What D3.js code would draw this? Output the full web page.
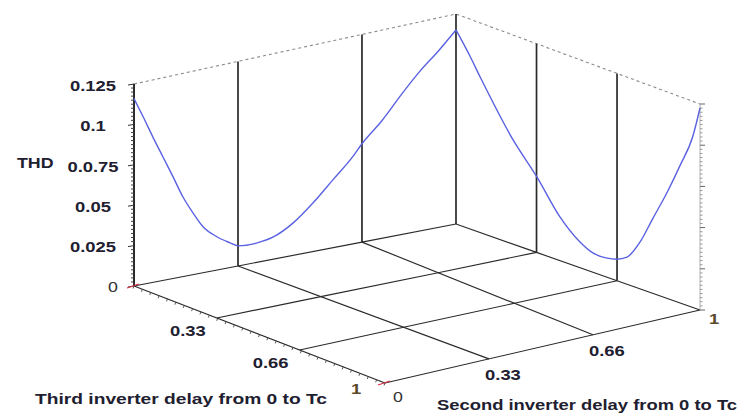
<!DOCTYPE html>
<html>
<head>
<meta charset="utf-8">
<script src="https://cdn.jsdelivr.net/npm/d3@7"></script>
<style>
  html, body { margin: 0; padding: 0; background: #fff; }
  svg { display: block; }
  text { font-family: "Liberation Sans", Arial, sans-serif; }
</style>
</head>
<body>
<script>
// ---------------- DATA ----------------
// THD along the back wall where third inverter delay = 0 (second delay 0 -> 1)
const secondDelay = [0, 0.029, 0.060, 0.092, 0.124, 0.155, 0.187, 0.219, 0.263, 0.305, 0.33,
                     0.381, 0.424, 0.477, 0.530, 0.583, 0.636, 0.66, 0.732, 0.805, 0.866, 0.938, 1];
const thdAlongSecond = [0.116, 0.1035, 0.0897, 0.0761, 0.0626, 0.0491, 0.0380, 0.0282, 0.0204, 0.0151, 0.0123,
                        0.0118, 0.0135, 0.0197, 0.0295, 0.0411, 0.0527, 0.0592, 0.0706, 0.0843, 0.0949, 0.1055, 0.1155];
// THD along the back wall where second inverter delay = 1 (third delay 0 -> 1)
const thirdDelay = [0, 0.057, 0.098, 0.234, 0.332, 0.426, 0.508, 0.561, 0.619, 0.66, 0.701,
                    0.754, 0.807, 0.865, 0.918, 0.971, 1];
const thdAlongThird = [0.1155, 0.103, 0.093, 0.0623, 0.0452, 0.0262, 0.0154, 0.0116, 0.0115, 0.0130, 0.0164,
                       0.0282, 0.0454, 0.0641, 0.0832, 0.1040, 0.1226];

const zTicks = [0, 0.025, 0.05, 0.075, 0.1, 0.125];
const zTickLabels = ["0", "0.025", "0.05", "0.0.75", "0.1", "0.125"];
const thirdTicks = [0.33, 0.66, 1];
const thirdTickLabels = ["0.33", "0.66", "1"];
const secondTicks = [0, 0.33, 0.66, 1];
const secondTickLabels = ["0", "0.33", "0.66", "1"];
const gridValues = [0.33, 0.66];
const zLabel = "THD";
const thirdLabel = "Third inverter delay from 0 to Tc";
const secondLabel = "Second inverter delay from 0 to Tc";

// ---------------- LAYOUT (projection) ----------------
const W = 747, H = 417;
const zMax = 0.125;
const cO = [134, 286], cA = [385, 383], cB = [700, 310], cC = [456, 224];
const hO = 202, hA = 198, hB = 206, hC = 210;
const backWarp = d3.scaleLinear().domain([0, 0.33, 0.66, 1]).range([0, 0.323, 0.708, 1]);
const frontScale = d3.scaleLinear().domain([0, 1]).range([0, 1]);
const lerp = d3.interpolateNumber;
function P(s, t, z) {
  const sb = backWarp(s), sf = frontScale(s);
  const back = [lerp(cO[0], cC[0])(sb), lerp(cO[1], cC[1])(sb)];
  const front = [lerp(cA[0], cB[0])(sf), lerp(cA[1], cB[1])(sf)];
  const x = lerp(back[0], front[0])(t), y = lerp(back[1], front[1])(t);
  const h = lerp(lerp(hO, hC)(sb), lerp(hA, hB)(sf))(t);
  const zs = d3.scaleLinear().domain([0, zMax]).range([0, h]);
  return [x, y - zs(z)];
}

const svg = d3.select("body").append("svg").attr("width", W).attr("height", H);
const line = d3.line();
const XS = 1.27; // horizontal stretch of the text in the reference

function label(x, y, str, opts) {
  const o = Object.assign({ size: 14.5, weight: "bold", anchor: "middle", fill: "#1e2030" }, opts || {});
  const t = svg.append("text")
    .attr("text-anchor", o.anchor)
    .attr("dominant-baseline", "central")
    .attr("font-size", o.size)
    .attr("font-weight", o.weight)
    .attr("fill", o.fill)
    .text(str);
  if (o.length) {
    t.attr("x", x).attr("y", y).attr("textLength", o.length).attr("lengthAdjust", "spacingAndGlyphs");
  } else {
    t.attr("transform", `translate(${x},${y}) scale(${XS},1)`);
  }
}

// ---------------- BOX ----------------
const gridS = [0].concat(gridValues, [1]);
const floor = svg.append("g").attr("fill", "none").attr("stroke", "#2a2a2a").attr("stroke-width", 1.15);
floor.append("path").attr("d", line(gridS.map(s => P(s, 0, 0))));
floor.append("path").attr("d", line(gridS.map(t => P(1, t, 0))));
floor.append("path").attr("d", line([P(0, 0, 0), P(0, 1, 0)]));
floor.append("path").attr("d", line([P(0, 1, 0), P(1, 1, 0)]));
gridValues.forEach(v => {
  floor.append("path").attr("d", line(gridS.map(s => P(s, v, 0))));
  floor.append("path").attr("d", line([P(v, 0, 0), P(v, 1, 0)]));
});

// dashed top edges
svg.append("path")
  .attr("d", line(gridS.map(s => P(s, 0, zMax)).concat(gridValues.concat([1]).map(t => P(1, t, zMax)))))
  .attr("fill", "none").attr("stroke", "#8a8a8a").attr("stroke-width", 1.1)
  .attr("stroke-dasharray", "3,3");

// wall verticals
const verts = gridValues.map(s => [s, 0]).concat([[1, 0]], gridValues.map(t => [1, t]));
verts.forEach(([s, t]) => {
  svg.append("path").attr("d", line([P(s, t, 0), P(s, t, zMax)]))
    .attr("stroke", "#2a2a2a").attr("stroke-width", 1.7);
});

// right (dotted) z axis at far corner
const minorZ = d3.range(0, zMax + 1e-9, 0.0025);
svg.append("path").attr("d", line([P(1, 1, 0), P(1, 1, zMax)]))
  .attr("stroke", "#b0b0b0").attr("stroke-width", 1);
minorZ.forEach((z, i) => {
  const p = P(1, 1, z);
  const major = i % 10 === 0;
  svg.append("line").attr("x1", p[0]).attr("y1", p[1]).attr("x2", p[0] + (major ? 5 : 2.5)).attr("y2", p[1])
    .attr("stroke", major ? "#666" : "#999").attr("stroke-width", 1);
});

// main z axis at origin
svg.append("path").attr("d", line([P(0, 0, 0), P(0, 0, zMax)]))
  .attr("stroke", "#111").attr("stroke-width", 1.8);
minorZ.forEach((z, i) => {
  const p = P(0, 0, z);
  const major = i % 10 === 0;
  svg.append("line").attr("x1", p[0]).attr("y1", p[1]).attr("x2", p[0] - (major ? 6 : 3)).attr("y2", p[1] + (major ? 1 : 0))
    .attr("stroke", major ? "#333" : "#444").attr("stroke-width", 1);
});

// small ticks along the third axis (front-left edge)
d3.range(0, 1.0001, 1 / 30).forEach(t => {
  const p = P(0, t, 0);
  svg.append("line").attr("x1", p[0]).attr("y1", p[1]).attr("x2", p[0] - 1).attr("y2", p[1] + 2.5)
    .attr("stroke", "#444").attr("stroke-width", 0.9);
});

// red corner marks
[[0, 0], [0, 1]].forEach(([s, t]) => {
  const p = P(s, t, 0);
  svg.append("path").attr("d", line([[p[0] - 7, p[1] + 2], [p[0] + 5, p[1] - 2]]))
    .attr("stroke", "#d03040").attr("stroke-width", 1.3);
});

// ---------------- CURVE ----------------
const curveLine = d3.line().curve(d3.curveMonotoneX);
const seg1 = secondDelay.map((s, i) => P(s, 0, thdAlongSecond[i]));
const seg2 = thirdDelay.map((t, i) => P(1, t, thdAlongThird[i]));
[seg1, seg2].forEach(seg => {
  svg.append("path").attr("d", curveLine(seg))
    .attr("fill", "none").attr("stroke", "#5a62e2").attr("stroke-width", 1.4);
});

// ---------------- LABELS ----------------
zTicks.forEach((z, i) => {
  const p = P(0, 0, z);
  if (z === 0) {
    label(p[0] - 16, p[1] + 1, zTickLabels[i], { weight: "normal", size: 14, anchor: "end", fill: "#333" });
  } else {
    label(93, p[1] + 2, zTickLabels[i]);
  }
});
label(17, 163, zLabel, { anchor: "start", size: 14 });

thirdTicks.forEach((t, i) => {
  const p = P(0, t, 0);
  label(p[0] - 29, p[1] + (t === 1 ? 6 : 13), thirdTickLabels[i], { fill: t === 1 ? "#5a4a2a" : "#1e2030" });
});
secondTicks.forEach((s, i) => {
  const p = P(s, 1, 0);
  if (s === 0) {
    label(p[0] + 13, p[1] + 14, secondTickLabels[i], { weight: "normal", size: 14, fill: "#333" });
  } else {
    label(p[0] + 14, p[1] + (s === 1 ? 9 : 16), secondTickLabels[i], { fill: s === 1 ? "#5a4a2a" : "#1e2030" });
  }
});

label(35, 398, thirdLabel, { anchor: "start", size: 15, length: 292 });
label(437, 404, secondLabel, { anchor: "start", size: 15, length: 300 });
</script>
</body>
</html>
